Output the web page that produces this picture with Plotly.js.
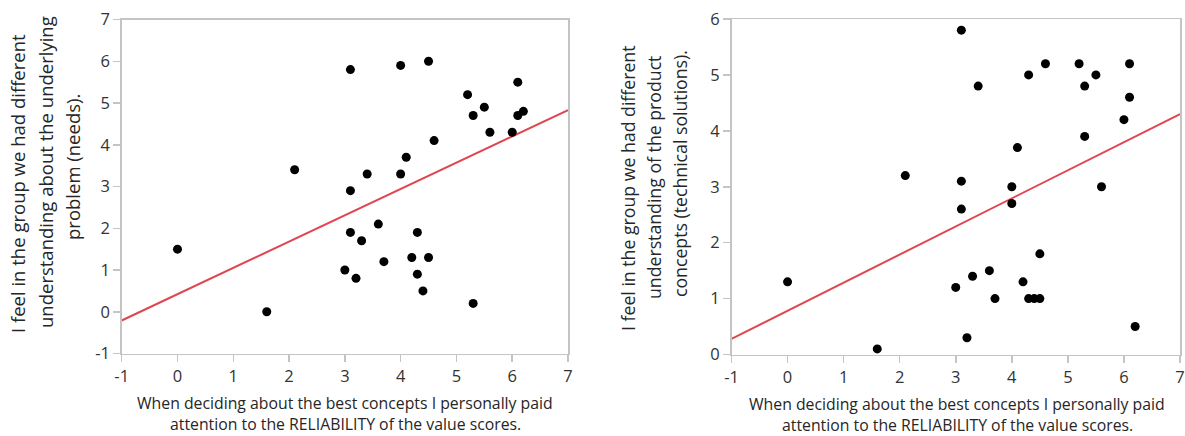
<!DOCTYPE html>
<html>
<head>
<meta charset="utf-8">
<script src="https://cdn.plot.ly/plotly-3.0.1.min.js"></script>
<style>html,body{margin:0;padding:0;background:#fff;}#chart{width:1185px;height:436px;}</style>
</head>
<body>
<div id="chart"></div>
<script>
// Respondent scores (x: attention to RELIABILITY of value scores)
const reliabilityX = [0, 1.6, 2.1, 3.0, 3.1, 3.1, 3.1, 3.2, 3.3, 3.4, 3.6, 3.7, 4.0, 4.0, 4.1, 4.2, 4.3, 4.3, 4.4, 4.5, 4.5, 4.6, 5.2, 5.3, 5.3, 5.5, 5.6, 6.0, 6.1, 6.1, 6.2];
const needsY       = [1.5, 0, 3.4, 1.0, 5.8, 2.9, 1.9, 0.8, 1.7, 3.3, 2.1, 1.2, 5.9, 3.3, 3.7, 1.3, 1.9, 0.9, 0.5, 6.0, 1.3, 4.1, 5.2, 4.7, 0.2, 4.9, 4.3, 4.3, 5.5, 4.7, 4.8];
const conceptsY    = [1.3, 0.1, 3.2, 1.2, 5.8, 3.1, 2.6, 0.3, 1.4, 4.8, 1.5, 1.0, 3.0, 2.7, 3.7, 1.3, 5.0, 1.0, 1.0, 1.0, 1.8, 5.2, 5.2, 4.8, 3.9, 5.0, 3.0, 4.2, 5.2, 4.6, 0.5];

// Fitted lines
const fitX = [-1, 7];
const needsFitY = [-0.21, 4.83];
const conceptsFitY = [0.28, 4.30];

// Tick labels
const xTickVals = [-1, 0, 1, 2, 3, 4, 5, 6, 7];
const xTickText = ["-1", "0", "1", "2", "3", "4", "5", "6", "7"];
const needsTickVals = [-1, 0, 1, 2, 3, 4, 5, 6, 7];
const needsTickText = ["-1", "0", "1", "2", "3", "4", "5", "6", "7"];
const conceptsTickVals = [0, 1, 2, 3, 4, 5, 6];
const conceptsTickText = ["0", "1", "2", "3", "4", "5", "6"];

// Texts
const xTitleLines = ["When deciding about the best concepts I personally paid", "attention to the RELIABILITY of the value scores."];
const needsTitleLines = ["I feel in the group we had different", "understanding about the underlying", "problem (needs)."];
const conceptsTitleLines = ["I feel in the group we had different", "understanding of the product", "concepts (technical solutions)."];

const W = 1185, H = 436;
const FONT = "Open Sans, sans-serif";
const TXT = "#333333";
const TITLE = "#262626";
const FRAME = "#c4c4c4";
const RED = "#e0464f";

function px(x){return x/W;}
function py(y){return 1 - y/H;}

const marker = {color: "#000", size: 9};
const traces = [
  {x: fitX, y: needsFitY, mode: "lines", line: {color: RED, width: 2}, xaxis: "x", yaxis: "y", hoverinfo: "skip"},
  {x: reliabilityX, y: needsY, mode: "markers", marker: marker, xaxis: "x", yaxis: "y"},
  {x: fitX, y: conceptsFitY, mode: "lines", line: {color: RED, width: 2}, xaxis: "x2", yaxis: "y2", hoverinfo: "skip"},
  {x: reliabilityX, y: conceptsY, mode: "markers", marker: marker, xaxis: "x2", yaxis: "y2"}
];

function axis(domain, range, anchor, vals, text){
  return {
    domain: domain, range: range, anchor: anchor,
    tickmode: "array", tickvals: vals, ticktext: text,
    showgrid: false, zeroline: false,
    showline: true, mirror: true, linecolor: FRAME, linewidth: 1.5,
    ticks: "outside", ticklen: 7, tickwidth: 1.5, tickcolor: FRAME,
    tickfont: {family: FONT, size: 16.5, color: TXT},
    fixedrange: true
  };
}

const annotations = [];
function addLines(lines, xs, ys, angle, size){
  lines.forEach((t, i) => {
    annotations.push({
      text: t, xref: "paper", yref: "paper",
      x: px(xs[i]), y: py(ys[i]), xanchor: "center", yanchor: "middle",
      showarrow: false, textangle: angle,
      font: {family: FONT, size: size, color: TITLE}
    });
  });
}
addLines(xTitleLines, [345, 345], [403, 424], 0, 15.8);
addLines(xTitleLines, [957, 957], [404, 425], 0, 15.8);
addLines(needsTitleLines, [17, 45, 72], [184, 172, 167], -90, 18.5);
addLines(conceptsTitleLines, [628, 654, 680], [188, 178, 174], -90, 17.7);

const layout = {
  width: W, height: H,
  margin: {l: 0, r: 0, t: 0, b: 0},
  paper_bgcolor: "#fff", plot_bgcolor: "#fff",
  showlegend: false,
  xaxis: axis([px(121.7), px(568)], [-1, 7], "y", xTickVals, xTickText),
  yaxis: axis([py(353.5), py(19.5)], [-1, 7], "x", needsTickVals, needsTickText),
  xaxis2: axis([px(731.5), px(1180)], [-1, 7], "y2", xTickVals, xTickText),
  yaxis2: axis([py(354.5), py(19)], [0, 6], "x2", conceptsTickVals, conceptsTickText),
  annotations: annotations
};

Plotly.newPlot("chart", traces, layout, {staticPlot: true, displayModeBar: false});
</script>
</body>
</html>
